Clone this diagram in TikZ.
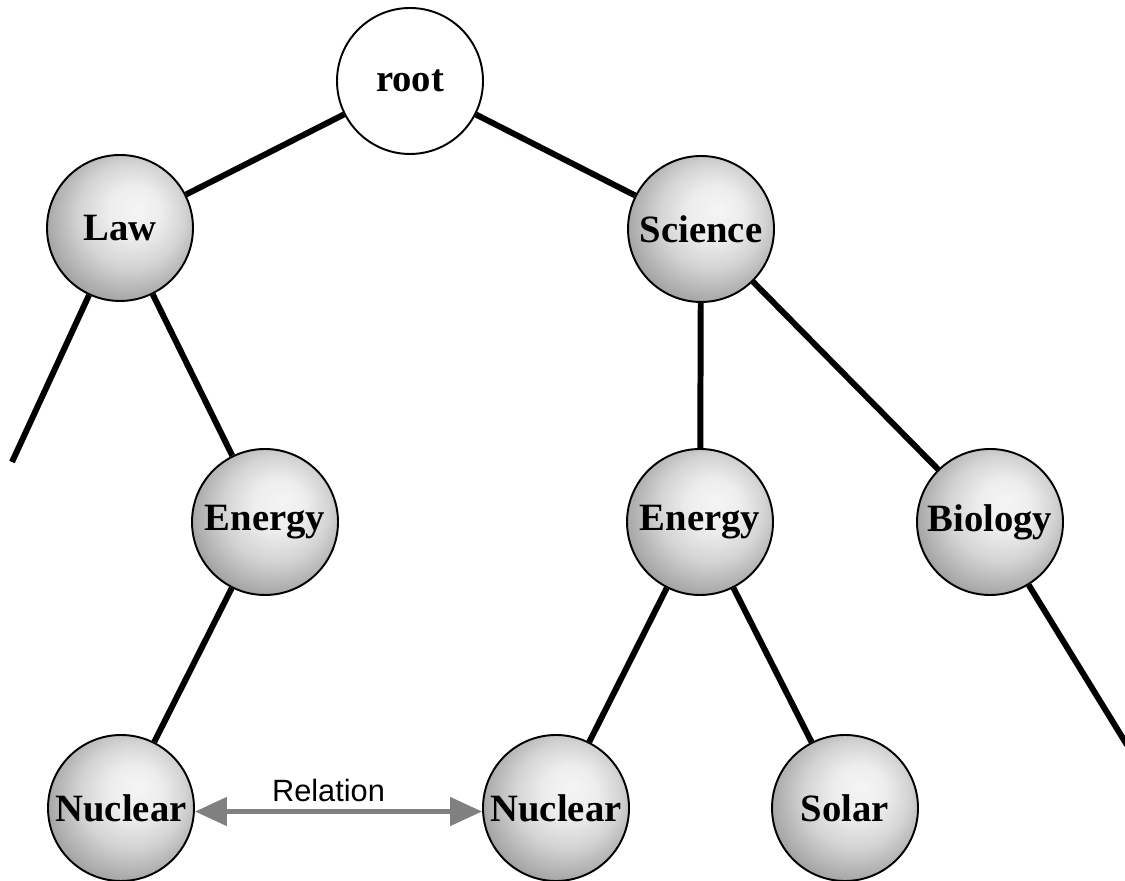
\documentclass[tikz,border=0pt]{standalone}
\usepackage{fontspec}
\setmainfont{Liberation Serif}
\newfontfamily\relfont{Liberation Sans}
\usetikzlibrary{arrows.meta}
\usetikzlibrary{positioning}

% sphere look, light from the upper right
\pgfdeclareradialshading{sphere}{\pgfpoint{6bp}{7bp}}{%
  color(0bp)=(black!4); color(9bp)=(black!7); color(18bp)=(black!17);
  color(27bp)=(black!33); color(36bp)=(black!52); color(50bp)=(black!52)}

\begin{document}
\begin{tikzpicture}[
		topic/.style = {circle, draw, line width=1.1pt, minimum size=2.92cm, inner sep=0pt,
			shading=sphere, font=\fontsize{22}{24}\selectfont\bfseries},
		rootnode/.style = {circle, draw, line width=1.1pt, minimum size=2.92cm, inner sep=0pt,
			fill=white, font=\fontsize{22}{24}\selectfont\bfseries},
		branch/.style = {line width=3.4pt},
		relation/.style = {draw=black!50, line width=2.8pt,
			{Triangle[length=0.64cm,width=0.56cm]}-{Triangle[length=0.64cm,width=0.56cm]}}
	]
		\useasboundingbox (0,0) rectangle (22.5,17.62);

		\node[rootnode] (root) at (8.2,16.0) {root};
		\node[topic] (law) at (2.4,13.06) {Law};
		\node[topic] (science) at (14.02,13.04) {Science};

		\node[topic] (lawenergy) at (5.3,7.18) {Energy};
		\node[topic] (scienergy) at (14.0,7.18) {Energy};
		\node[topic] (biology) at (19.8,7.18) {Biology};

		\node[topic] (lawnuclear) at (2.42,1.46) {Nuclear};
		\node[topic] (scinuclear) at (11.12,1.46) {Nuclear};
		\node[topic] (solar) at (16.9,1.46) {Solar};

		\coordinate (lawstub) at (0.24,8.38);
		\coordinate (biostub) at (22.54,2.72);

		% tree edges
		\draw[branch] (root) -- (law);
		\draw[branch] (root) -- (science);
		\draw[branch] (law) -- (lawstub);
		\draw[branch] (law) -- (lawenergy);
		\draw[branch] (lawenergy) -- (lawnuclear);
		\draw[branch] (science) -- (scienergy);
		\draw[branch] (science) -- (biology);
		\draw[branch] (scienergy) -- (scinuclear);
		\draw[branch] (scienergy) -- (solar);
		\draw[branch] (biology) -- (biostub);

		% the relation between the two nuclear topics
		\draw[relation] ([yshift=-2pt]lawnuclear.east) -- ([yshift=-2pt]scinuclear.west)
			node[midway, above=1pt, text=black, font=\relfont\fontsize{17.5}{20}\selectfont, xshift=-0.2cm] (rellabel) {Relation};
\end{tikzpicture}
\end{document}
